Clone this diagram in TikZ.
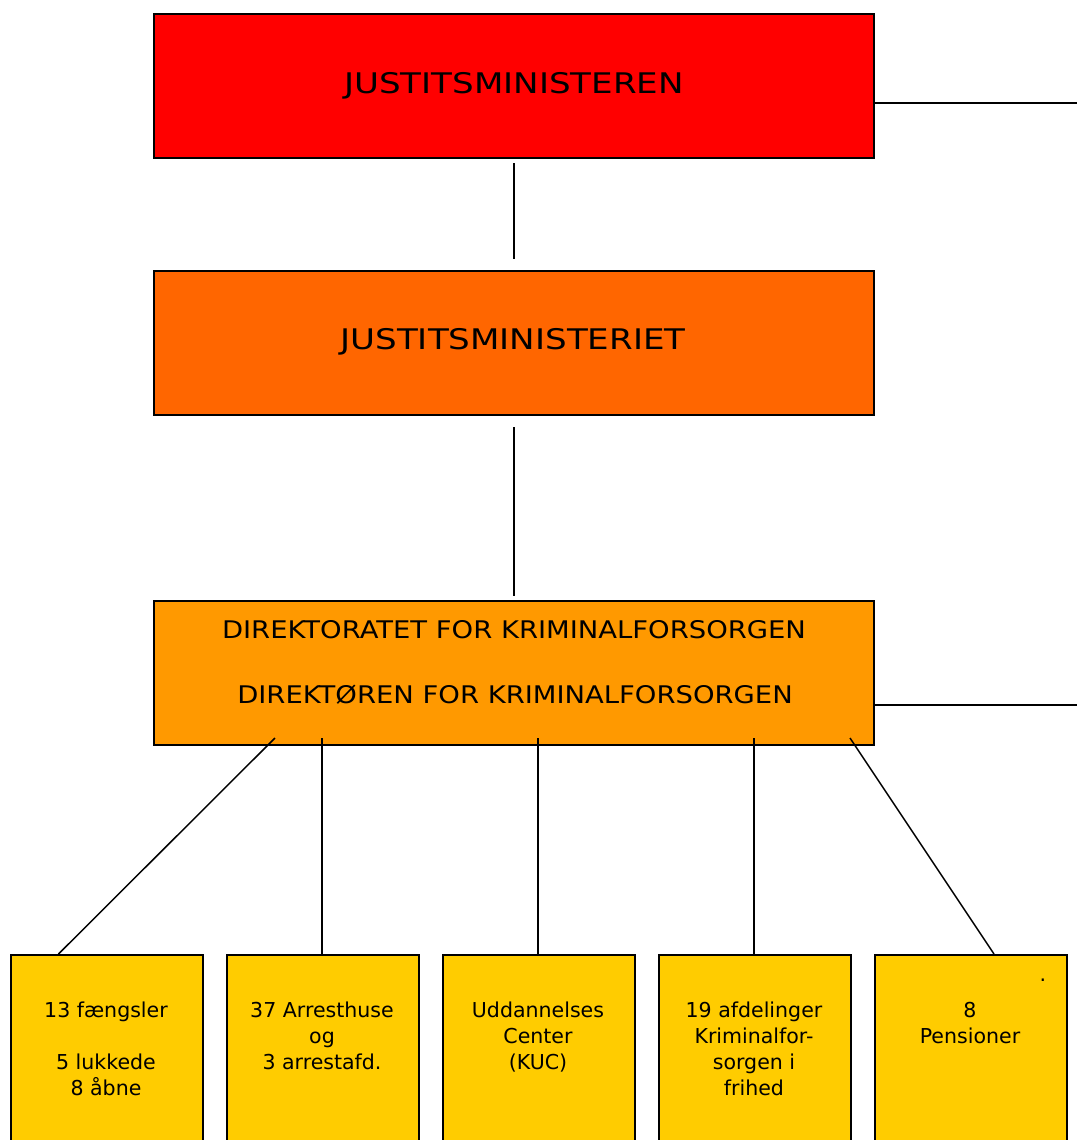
\documentclass[tikz,border=0pt]{standalone}
\usepackage{fontspec}
\setmainfont{DejaVu Sans}
\newfontfamily\wideA[FakeStretch=1.2]{DejaVu Sans}
\newfontfamily\wideB[FakeStretch=1.13]{DejaVu Sans}
\definecolor{cred}{HTML}{FF0000}
\definecolor{corange}{HTML}{FF6600}
\definecolor{clight}{HTML}{FF9900}
\definecolor{cyellow}{HTML}{FFCC00}
\tikzset{
  bigbox/.style={draw=black, line width=1.5pt, rectangle, minimum width=720*0.75pt, minimum height=144*0.75pt, inner sep=0pt},
  unitbox/.style={draw=black, line width=1.5pt, rectangle, fill=cyellow, minimum width=192*0.75pt, minimum height=190*0.75pt, inner sep=0pt, anchor=north west},
  conn/.style={draw=black, line width=1.1pt},
  toptext/.style={anchor=base, inner sep=0pt, font=\wideA\fontsize{21.3}{25}\selectfont},
  dirtext/.style={anchor=base, inner sep=0pt, font=\wideB\fontsize{18.2}{22}\selectfont},
  unittext/.style={anchor=base, inner sep=0pt, align=center, font=\fontsize{15.4}{19.5}\selectfont}
}
\begin{document}
\begin{tikzpicture}[x=0.75pt,y=-0.75pt]
\useasboundingbox[fill=white] (0,0) rectangle (1077,1140);
% main boxes
\node[bigbox, fill=cred] (jm) at (514,86) {};
\node[bigbox, fill=corange] (jmt) at (514,343) {};
\node[bigbox, fill=clight] (dir) at (514,673) {};
\node[toptext] (jmtext) at (514,93) {JUSTITSMINISTEREN};
\node[toptext] (jmttext) at (513,349) {JUSTITSMINISTERIET};
\node[dirtext] (dirtext1) at (514,638) {DIREKTORATET FOR KRIMINALFORSORGEN};
\node[dirtext] (dirtext2) at (515,703) {DIREKTØREN FOR KRIMINALFORSORGEN};
% unit boxes
\node[unitbox] (b1) at (10,954) {};
\node[unitbox] (b2) at (226,954) {};
\node[unitbox] (b3) at (442,954) {};
\node[unitbox] (b4) at (658,954) {};
\node[unitbox] (b5) at (874,954) {};
% anchor=base is the baseline of the last line (first line at y=1017, 26px apart)
\node[unittext] (t1) at (106,1095) {13 fængsler\\[19.5pt]5 lukkede\\8 åbne};
\node[unittext] (t2) at (322,1069) {37 Arresthuse\\og\\3 arrestafd.};
\node[unittext] (t3) at (538,1069) {Uddannelses\\Center\\(KUC)};
\node[unittext] (t4) at (754,1095) {19 afdelinger\\Kriminalfor-\\sorgen i\\frihed};
\node[unittext] (t5) at (970,1043) {8\\Pensioner};
\node[anchor=base, inner sep=0pt, font=\fontsize{15.4}{19.5}\selectfont] (dot) at (1043,981) {.};
% connector points
\coordinate (a1) at (514,163);
\coordinate (a2) at (514,259);
\coordinate (a3) at (514,427);
\coordinate (a4) at (514,596);
\coordinate (r1) at (1077,103);
\coordinate (r2) at (1077,705);
\coordinate (d1) at (275,738);
\coordinate (d2) at (322,738);
\coordinate (d3) at (538,738);
\coordinate (d4) at (754,738);
\coordinate (d5) at (850,738);
\coordinate (e1) at (58.5,954);
\coordinate (e5) at (994,954);
% connectors
\draw[conn] (a1) -- (a2);
\draw[conn] (a3) -- (a4);
\draw[conn] (jm.east |- r1) -- (r1);
\draw[conn] (dir.east |- r2) -- (r2);
\draw[conn] (d1) -- (e1);
\draw[conn] (d2) -- (d2 |- b2.north);
\draw[conn] (d3) -- (d3 |- b3.north);
\draw[conn] (d4) -- (d4 |- b4.north);
\draw[conn] (d5) -- (e5);
\end{tikzpicture}
\end{document}
